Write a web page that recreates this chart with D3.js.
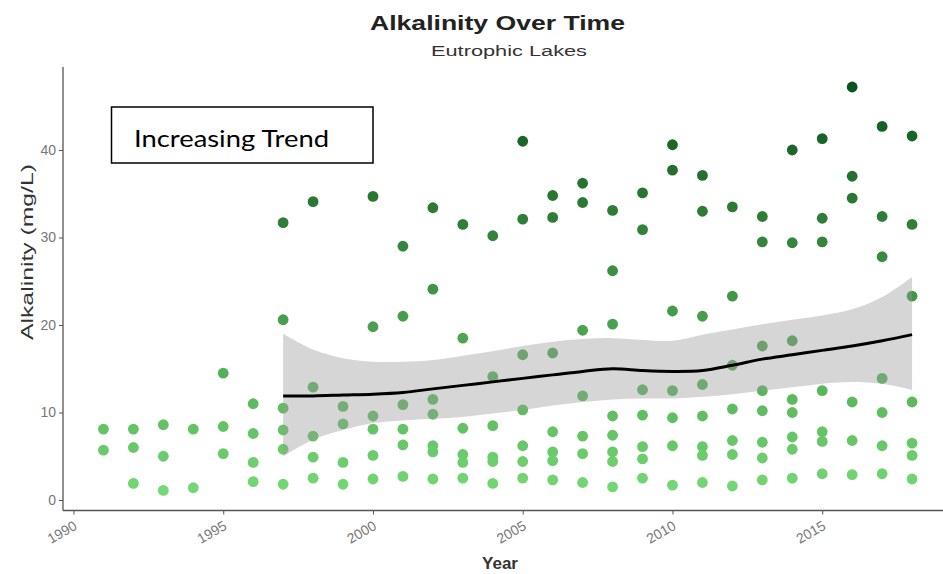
<!DOCTYPE html>
<html><head><meta charset="utf-8">
<script src="https://cdn.jsdelivr.net/npm/d3@7/dist/d3.min.js"></script>
<style>
html,body{margin:0;padding:0;background:#fff;}
svg{display:block;font-family:"Liberation Sans",Arial,sans-serif;}
</style></head>
<body><svg id="c" width="943" height="574"></svg>
<script>
// ---- data ----
const years = [1991,1992,1993,1994,1995,1996,1997,1998,1999,2000,2001,2002,2003,2004,2005,2006,2007,2008,2009,2010,2011,2012,2013,2014,2015,2016,2017,2018];
const alkalinity = [
  [8.1,5.7],
  [8.1,6.0,1.9],
  [8.6,5.0,1.1],
  [8.1,1.4],
  [14.5,8.4,5.3],
  [11.0,7.6,4.3,2.1],
  [31.7,20.6,10.5,8.0,5.8,1.8],
  [34.1,12.9,7.3,4.9,2.5],
  [10.7,8.7,4.3,1.8],
  [34.7,19.8,9.6,8.1,5.1,2.4],
  [29.0,21.0,10.9,8.1,6.3,2.7],
  [33.4,24.1,11.5,9.8,6.2,5.5,2.4],
  [31.5,18.5,8.2,5.2,4.3,2.5],
  [30.2,14.1,8.5,4.9,4.4,1.9],
  [41.0,32.1,16.6,10.3,6.2,4.4,2.5],
  [34.8,32.3,16.8,7.8,5.5,4.5,2.3],
  [36.2,34.0,19.4,11.9,7.3,5.3,2.0],
  [33.1,26.2,20.1,9.6,7.4,5.5,4.4,1.5],
  [35.1,30.9,12.6,9.7,6.1,4.7,2.5],
  [40.6,37.7,21.6,12.5,9.4,6.2,1.7],
  [37.1,33.0,21.0,13.2,9.6,6.1,5.1,2.0],
  [33.5,23.3,15.4,10.4,6.8,5.2,1.6],
  [32.4,29.5,17.6,12.5,10.2,6.6,4.8,2.3],
  [40.0,29.4,18.2,11.5,10.0,7.2,5.8,2.5],
  [41.3,32.2,29.5,12.5,7.8,6.7,3.0],
  [47.2,37.0,34.5,11.2,6.8,2.9],
  [42.7,32.4,27.8,13.9,10.0,6.2,3.0],
  [41.6,31.5,23.3,11.2,6.5,5.1,2.4]
];
// smoothed trend (loess) with confidence band
const trendYears = [1997,1998,1999,2000,2001,2002,2003,2004,2005,2006,2007,2008,2009,2010,2011,2012,2013,2014,2015,2016,2017,2018];
const trendFit   = [11.9,11.9,12.0,12.1,12.3,12.7,13.1,13.5,13.9,14.3,14.7,15.0,14.8,14.7,14.8,15.4,16.1,16.6,17.1,17.6,18.2,18.9];
const trendLower = [5.0,6.9,8.0,8.8,9.1,9.3,9.5,9.9,10.3,10.8,11.2,11.5,11.6,11.6,11.8,12.1,12.5,12.9,13.3,13.5,13.3,12.6];
const trendUpper = [19.0,17.2,16.2,15.8,15.8,16.0,16.5,17.0,17.6,18.1,18.4,18.5,18.3,18.2,18.9,19.5,20.1,20.6,21.1,21.8,23.2,25.5];
const xTicks = [1990,1995,2000,2005,2010,2015];
const yTicks = [0,10,20,30,40];
const titleText = "Alkalinity Over Time";
const subtitleText = "Eutrophic Lakes";
const xLabel = "Year";
const yLabel = "Alkalinity (mg/L)";
const noteText = "Increasing Trend";

// ---- drawing ----
const svg = d3.select("#c");
const x = d3.scaleLinear().domain([1989.65, 2019.35]).range([63, 952.5]);
const y = d3.scaleLinear().domain([-1.2, 49.5]).range([510.5, 66.9]);
const color = d3.scaleLinear().domain([1, 47]).range(["#74d874", "#0b561c"]).interpolate(d3.interpolateLab);

const pts = [];
years.forEach((yr, i) => alkalinity[i].forEach(v => pts.push({yr, v})));

svg.append("g").selectAll("circle").data(pts).join("circle")
  .attr("cx", d => x(d.yr)).attr("cy", d => y(d.v)).attr("r", 5.4)
  .attr("fill", d => color(d.v));

const trend = trendYears.map((yr, i) => ({yr, fit: trendFit[i], lo: trendLower[i], hi: trendUpper[i]}));
const curve = d3.curveCatmullRom.alpha(0.5);
svg.append("path").datum(trend)
  .attr("d", d3.area().x(d => x(d.yr)).y0(d => y(d.lo)).y1(d => y(d.hi)).curve(curve))
  .attr("fill", "#999999").attr("fill-opacity", 0.4);
svg.append("path").datum(trend)
  .attr("d", d3.line().x(d => x(d.yr)).y(d => y(d.fit)).curve(curve))
  .attr("fill", "none").attr("stroke", "#000").attr("stroke-width", 3);

// axes
const axisColor = "#555";
const gx = svg.append("g").attr("transform", "translate(0,510.5)")
  .call(d3.axisBottom(x).tickValues(xTicks).tickSize(4).tickFormat(d3.format("d")));
gx.select(".domain").attr("stroke", axisColor).attr("stroke-width", 1.3).attr("d", "M63,0H943");
gx.selectAll(".tick line").attr("stroke", axisColor);
gx.selectAll(".tick text").attr("fill", "#777").style("font-size", "14px")
  .attr("text-anchor", "end").attr("dy", null).attr("y", 0)
  .attr("transform", "translate(4,18) rotate(-30)");

const gy = svg.append("g").attr("transform", "translate(63,0)")
  .call(d3.axisLeft(y).tickValues(yTicks).tickSize(4));
gy.select(".domain").attr("stroke", axisColor).attr("stroke-width", 1.3).attr("d", "M0,66.9V510.5");
gy.selectAll(".tick line").attr("stroke", axisColor);
gy.selectAll(".tick text").attr("fill", "#777").style("font-size", "14px").attr("x", -7);

function fitText(sel, w) { sel.attr("textLength", w).attr("lengthAdjust", "spacingAndGlyphs"); }

// titles
svg.append("text").attr("x", 497.5).attr("y", 30).attr("text-anchor", "middle")
  .style("font-size", "20px").style("font-weight", "bold").attr("fill", "#222").text(titleText)
  .call(fitText, 255);
svg.append("text").attr("x", 509).attr("y", 56).attr("text-anchor", "middle")
  .style("font-size", "14px").attr("fill", "#333").text(subtitleText).call(fitText, 156);
svg.append("text").attr("x", 500).attr("y", 569).attr("text-anchor", "middle")
  .style("font-size", "17px").style("font-weight", "bold").attr("fill", "#333").text(xLabel);
svg.append("text").attr("transform", "translate(33,252) rotate(-90)").attr("text-anchor", "middle")
  .style("font-size", "16px").attr("fill", "#333").text(yLabel).call(fitText, 176);

// annotation box
svg.append("rect").attr("x", 111.5).attr("y", 107).attr("width", 261.5).attr("height", 56)
  .attr("fill", "#fff").attr("stroke", "#000").attr("stroke-width", 1.5);
svg.append("text").attr("x", 134).attr("y", 146.5).style("font-family", "Lato, 'Open Sans', sans-serif")
  .style("font-size", "24px").attr("fill", "#000").text(noteText).call(fitText, 195);
</script></body></html>
